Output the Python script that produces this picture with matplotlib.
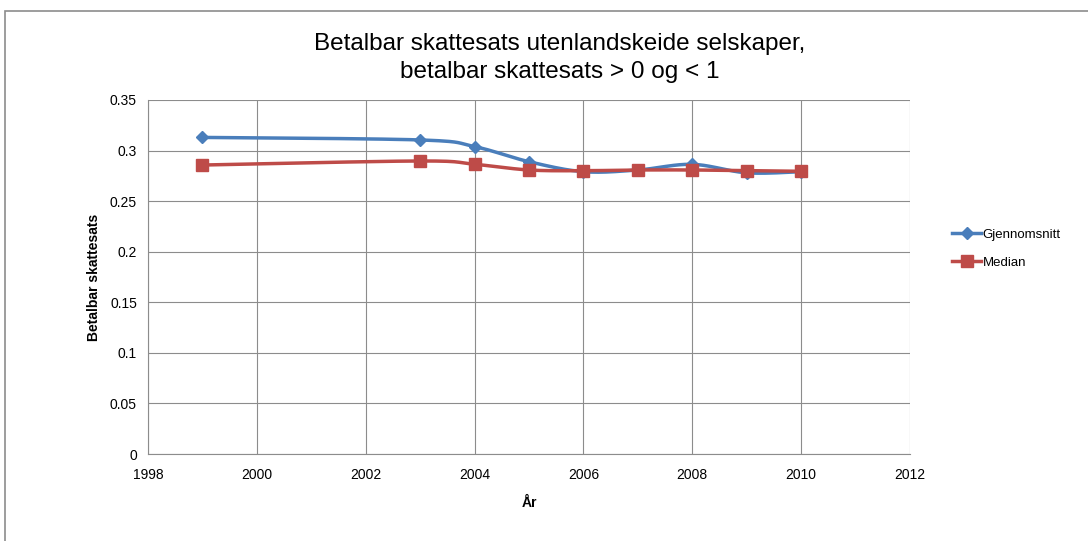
import numpy as np
import matplotlib
matplotlib.use("Agg")
import matplotlib.pyplot as plt
from matplotlib.ticker import MultipleLocator, FuncFormatter
from matplotlib.patches import Rectangle
from matplotlib.lines import Line2D

plt.rcParams['font.family'] = ['Liberation Sans', 'DejaVu Sans']

# data
years = [1999, 2003, 2004, 2005, 2006, 2007, 2008, 2009, 2010]
gjennomsnitt = [0.3130, 0.3105, 0.3039, 0.2890, 0.2791, 0.2808, 0.2864, 0.2780, 0.2791]
median = [0.2857, 0.2897, 0.2864, 0.2808, 0.2801, 0.2808, 0.2808, 0.2801, 0.2795]

blue = '#4A7EBB'
red = '#BE4B48'
grid_col = '#8C8C8C'


def smooth(xs, ys, n=30):
    # Excel-like smoothed line (Catmull-Rom as cubic bezier)
    p = np.column_stack([xs, ys]).astype(float)
    p = np.vstack([p[0], p, p[-1]])
    out = []
    t = np.linspace(0, 1, n)[:, None]
    for i in range(1, len(p) - 2):
        b0 = p[i]
        b3 = p[i + 1]
        b1 = b0 + (p[i + 1] - p[i - 1]) / 6
        b2 = b3 - (p[i + 2] - p[i]) / 6
        seg = (1 - t) ** 3 * b0 + 3 * (1 - t) ** 2 * t * b1 + 3 * (1 - t) * t ** 2 * b2 + t ** 3 * b3
        out.append(seg)
    c = np.vstack(out)
    return c[:, 0], c[:, 1]


fig = plt.figure(figsize=(10.88, 5.41), dpi=100)
fig.patches.append(Rectangle((5 / 1088, -0.01), 1.1, 1 - 11 / 541 + 0.01, transform=fig.transFigure,
                             fill=False, edgecolor='#8C8C8C', linewidth=1.2))
ax = fig.add_axes([148 / 1088, 1 - 454 / 541, (910 - 148) / 1088, (454 - 100) / 541])

sx, sy = smooth(years, gjennomsnitt)
ax.plot(sx, sy, color=blue, lw=2.5, zorder=3)
ax.plot(years, gjennomsnitt, 'D', color=blue, ms=6.5, zorder=4)
sx, sy = smooth(years, median)
ax.plot(sx, sy, color=red, lw=2.5, zorder=3)
ax.plot(years, median, 's', color=red, ms=8, zorder=4)

ax.set_xlim(1998, 2012)
ax.set_ylim(0, 0.35)
ax.xaxis.set_major_locator(MultipleLocator(2))
ax.yaxis.set_major_locator(MultipleLocator(0.05))
ax.yaxis.set_major_formatter(FuncFormatter(lambda v, p: f"{round(v, 2):g}"))
ax.grid(True, color=grid_col, lw=0.8)
ax.set_axisbelow(True)
for s in ['top', 'right']:
    ax.spines[s].set_visible(False)
for s in ['left', 'bottom']:
    ax.spines[s].set_color(grid_col)
ax.tick_params(colors=grid_col, labelcolor='black', labelsize=10, length=0, pad=8)
ax.tick_params(axis='x', pad=10)

ax.set_xlabel('År', fontsize=10, fontweight='bold', labelpad=10)
ax.set_ylabel('Betalbar skattesats', fontsize=10, fontweight='bold', labelpad=6)

fig.text(560 / 1088, 1 - 58 / 541, 'Betalbar skattesats utenlandskeide selskaper,\nbetalbar skattesats > 0 og < 1',
         ha='center', va='center', fontsize=17.5, linespacing=1.3)

handles = [Line2D([], [], color=blue, lw=2.5, marker='D', ms=6),
           Line2D([], [], color=red, lw=2.5, marker='s', ms=8)]
fig.legend(handles, ['Gjennomsnitt', 'Median'], loc='upper left',
           bbox_to_anchor=(947 / 1088, 1 - 223 / 541), frameon=False, fontsize=9.5,
           handlelength=2.2, handletextpad=0.1, labelspacing=1.2, borderaxespad=0)

fig.savefig('out.png', dpi=100)
